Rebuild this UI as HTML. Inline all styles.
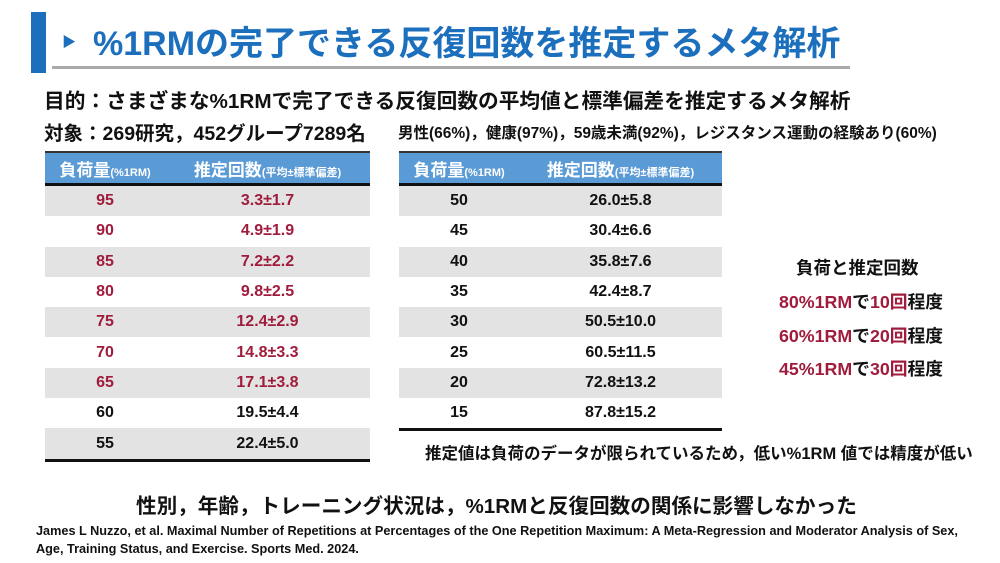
<!DOCTYPE html>
<html><head><meta charset="utf-8"><style>
body{margin:0;width:1000px;height:563px;background:#fff;position:relative;overflow:hidden;font-family:"Liberation Sans","Noto Sans CJK JP",sans-serif;font-weight:bold;color:#111}
.a{position:absolute;white-space:nowrap}
table{position:absolute;border-collapse:collapse;table-layout:fixed}
td{height:30.3px;padding:0;text-align:center;font-size:16px}
tr:nth-child(odd) td{background:#e3e3e3}
th{background:#5b9bd5;color:#fff;height:30px;font-size:17px;padding:0;border-top:2px solid #333;border-bottom:3px solid #111}
th small{font-size:11px}
.r{color:#a01c3c}
tbody tr:last-child td{border-bottom:3px solid #111}
</style></head><body>
<div class="a" style="left:31px;top:12px;width:15px;height:61px;background:#1b6fbd"></div>
<div class="a" style="left:52px;top:66px;width:798px;height:3px;background:#aaa"></div>
<div class="a" style="left:62px;top:32px;font-size:14px;color:#1b6fbd">▶</div>
<div class="a" style="left:93px;top:16px;font-size:34px;color:#1b6fbd">%1RMの完了できる反復回数を推定するメタ解析</div>
<div class="a" style="left:44px;top:84px;font-size:20.7px">目的：さまざまな%1RMで完了できる反復回数の平均値と標準偏差を推定するメタ解析</div>
<div class="a" style="left:44px;top:117px;font-size:19.5px">対象：269研究，452グループ7289名</div>
<div class="a" style="left:398px;top:121px;font-size:15.5px">男性(66%)，健康(97%)，59歳未満(92%)，レジスタンス運動の経験あり(60%)</div>
<table style="left:45px;top:151px;width:325px"><colgroup><col style="width:120px"><col></colgroup>
<thead><tr><th>負荷量<small>(%1RM)</small></th><th>推定回数<small>(平均±標準偏差)</small></th></tr></thead><tbody>
<tr><td class="r">95</td><td class="r">3.3±1.7</td></tr>
<tr><td class="r">90</td><td class="r">4.9±1.9</td></tr>
<tr><td class="r">85</td><td class="r">7.2±2.2</td></tr>
<tr><td class="r">80</td><td class="r">9.8±2.5</td></tr>
<tr><td class="r">75</td><td class="r">12.4±2.9</td></tr>
<tr><td class="r">70</td><td class="r">14.8±3.3</td></tr>
<tr><td class="r">65</td><td class="r">17.1±3.8</td></tr>
<tr><td>60</td><td>19.5±4.4</td></tr>
<tr><td>55</td><td>22.4±5.0</td></tr></tbody></table>
<table style="left:399px;top:151px;width:323px"><colgroup><col style="width:120px"><col></colgroup>
<thead><tr><th>負荷量<small>(%1RM)</small></th><th>推定回数<small>(平均±標準偏差)</small></th></tr></thead><tbody>
<tr><td>50</td><td>26.0±5.8</td></tr>
<tr><td>45</td><td>30.4±6.6</td></tr>
<tr><td>40</td><td>35.8±7.6</td></tr>
<tr><td>35</td><td>42.4±8.7</td></tr>
<tr><td>30</td><td>50.5±10.0</td></tr>
<tr><td>25</td><td>60.5±11.5</td></tr>
<tr><td>20</td><td>72.8±13.2</td></tr>
<tr><td>15</td><td>87.8±15.2</td></tr></tbody></table>
<div class="a" style="left:796px;top:255px;font-size:17.5px">負荷と推定回数</div>
<div class="a" style="left:779px;top:288px;font-size:17.8px"><span class="r">80%1RM</span>で<span class="r">10回</span>程度</div>
<div class="a" style="left:779px;top:322px;font-size:17.8px"><span class="r">60%1RM</span>で<span class="r">20回</span>程度</div>
<div class="a" style="left:779px;top:355px;font-size:17.8px"><span class="r">45%1RM</span>で<span class="r">30回</span>程度</div>
<div class="a" style="left:425px;top:440px;font-size:16.5px">推定値は負荷のデータが限られているため，低い%1RM 値では精度が低い</div>
<div class="a" style="left:136px;top:489px;font-size:20.6px">性別，年齢，トレーニング状況は，%1RMと反復回数の関係に影響しなかった</div>
<div class="a" style="left:36px;top:522px;font-size:12.7px;line-height:18px">James L Nuzzo, et al. Maximal Number of Repetitions at Percentages of the One Repetition Maximum: A Meta-Regression and Moderator Analysis of Sex,<br>Age, Training Status, and Exercise. Sports Med. 2024.</div>
</body></html>
